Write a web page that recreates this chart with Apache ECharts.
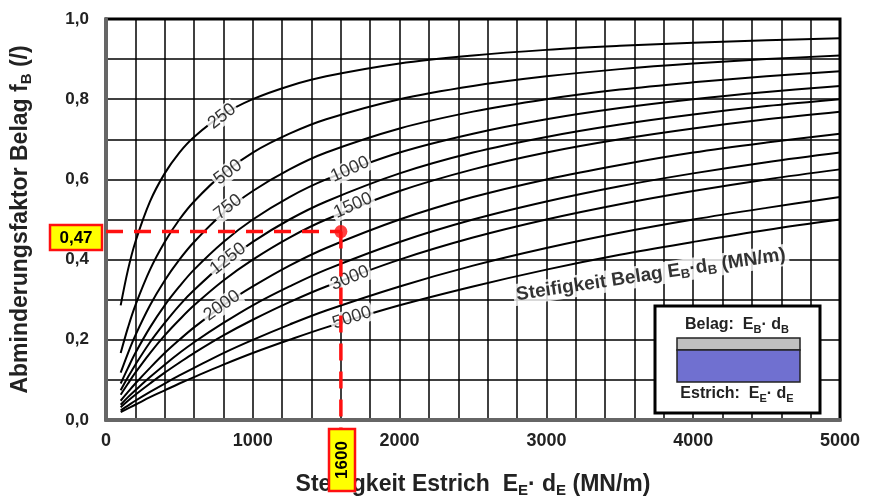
<!DOCTYPE html>
<html><head><meta charset="utf-8">
<script src="https://cdn.jsdelivr.net/npm/echarts@6/dist/echarts.min.js"></script>
<style>html,body{margin:0;padding:0;background:#fff}#c{width:869px;height:503px}</style>
</head><body><div id="c"></div>
<script>
// x positions (Steifigkeit Estrich, MN/m) at which the curves were read
const xValues = [100,150,200,300,400,500,600,800,1000,1250,1500,2000,2500,3000,3500,4000,4500,5000];
// curve families: Steifigkeit Belag (MN/m)
const curveNames = ['250','500','750','1000','1250','1500','2000','2500','3000','4000','5000'];
const f250  = [0.286,0.375,0.444,0.545,0.615,0.667,0.706,0.762,0.800,0.833,0.857,0.889,0.909,0.923,0.933,0.941,0.947,0.952];
const f500  = [0.167,0.231,0.286,0.375,0.444,0.500,0.545,0.615,0.667,0.714,0.750,0.800,0.833,0.857,0.875,0.889,0.900,0.909];
const f750  = [0.118,0.167,0.211,0.286,0.348,0.400,0.444,0.516,0.571,0.625,0.667,0.727,0.769,0.800,0.824,0.842,0.857,0.870];
const f1000 = [0.091,0.130,0.167,0.231,0.286,0.333,0.375,0.444,0.500,0.556,0.600,0.667,0.714,0.750,0.778,0.800,0.818,0.833];
const f1250 = [0.074,0.107,0.138,0.194,0.242,0.286,0.324,0.390,0.444,0.500,0.545,0.615,0.667,0.706,0.737,0.762,0.783,0.800];
const f1500 = [0.063,0.091,0.118,0.167,0.211,0.250,0.286,0.348,0.400,0.455,0.500,0.571,0.625,0.667,0.700,0.727,0.750,0.769];
const f2000 = [0.048,0.070,0.091,0.130,0.167,0.200,0.231,0.286,0.333,0.385,0.429,0.500,0.556,0.600,0.636,0.667,0.692,0.714];
const f2500 = [0.038,0.057,0.074,0.107,0.138,0.167,0.194,0.242,0.286,0.333,0.375,0.444,0.500,0.545,0.583,0.615,0.643,0.667];
const f3000 = [0.032,0.048,0.063,0.091,0.118,0.143,0.167,0.211,0.250,0.294,0.333,0.400,0.455,0.500,0.538,0.571,0.600,0.625];
const f4000 = [0.024,0.036,0.048,0.070,0.091,0.111,0.130,0.167,0.200,0.238,0.273,0.333,0.385,0.429,0.467,0.500,0.529,0.556];
const f5000 = [0.020,0.029,0.038,0.057,0.074,0.091,0.107,0.138,0.167,0.200,0.231,0.286,0.333,0.375,0.412,0.444,0.474,0.500];
const curveValues = [f250,f500,f750,f1000,f1250,f1500,f2000,f2500,f3000,f4000,f5000];
// curve label anchors: [text, x, y, rotation]
const curveLabels = [
  ['250',790,0.757,38],['500',831,0.618,37],['750',831,0.531,38],['1000',1662,0.625,24],
  ['1250',831,0.402,38],['1500',1683,0.535,24],['2000',790,0.285,35],['3000',1662,0.354,22],['5000',1675,0.255,18]
];
// example reading
const exampleX = 1600, exampleY = 0.47;
const exampleXLabel = '1600', exampleYLabel = '0,47';

const FONT = '"Liberation Sans", Arial, sans-serif';
const chart = echarts.init(document.getElementById('c'), null, {renderer:'canvas'});

const series = curveValues.map((vals,i)=>({
  type:'line', name:curveNames[i], data:xValues.map((x,j)=>[x,vals[j]]),
  smooth:0.35, showSymbol:false, symbol:'none', silent:true, z:3,
  lineStyle:{color:'#000', width:2}
}));

series.push({
  type:'scatter', symbolSize:0, z:5, silent:true,
  data:curveLabels.map(l=>({value:[l[1],l[2]], label:{rotate:l[3], formatter:l[0]}})),
  label:{show:true, position:'inside', color:'#000', fontFamily:FONT, fontSize:18,
    backgroundColor:'#fff', padding:[0,2,0,2]}
});
series.push({
  type:'scatter', symbolSize:0, z:5, silent:true,
  data:[{value:[3712,0.362]}],
  label:{show:true, position:'inside', rotate:8.5, fontFamily:FONT, backgroundColor:'#fff', padding:[0,3,0,3],
    formatter:'{b|Steifigkeit Belag E}{s|B}{b|·d}{s|B}{b| (MN/m)}',
    rich:{b:{fontSize:19, fontWeight:'bold', fontFamily:FONT, color:'#000', lineHeight:22},
          s:{fontSize:13, fontWeight:'bold', fontFamily:FONT, color:'#000', lineHeight:22, verticalAlign:'bottom', padding:[9,0,0,0]}}}
});
series.push({
  type:'line', z:6, silent:true, showSymbol:false, symbol:'none', clip:false,
  data:[[0,exampleY],[exampleX,exampleY]],
  lineStyle:{color:'#ff1010', width:3.5, type:[17,11]}
});
series.push({
  type:'line', z:6, silent:true, showSymbol:false, symbol:'none', clip:false,
  data:[[exampleX,exampleY],[exampleX,-0.02]],
  lineStyle:{color:'#ff1010', width:3.5, type:[17,11]}
});
series.push({
  type:'scatter', z:7, silent:true, symbolSize:13, data:[[exampleX,exampleY]],
  itemStyle:{color:'#ff1010'}
});

chart.setOption({
  animation:false,
  backgroundColor:'#fff',
  grid:{left:106, right:29, top:19, bottom:81, show:true, borderColor:'#000', borderWidth:3, backgroundColor:'transparent'},
  xAxis:{type:'value', min:0, max:5000, interval:200,
    axisLine:{show:true, onZero:false, lineStyle:{color:'#666', width:4}},
    axisTick:{show:false},
    splitLine:{show:true, lineStyle:{color:'#000', width:1.5}},
    axisLabel:{margin:12, fontFamily:FONT, fontSize:18, fontWeight:'bold', color:'#222',
      formatter:v=> (v%1000===0 ? String(v) : '')},
    name:'{b|Steifigkeit Estrich  E}{s|E}{b|· d}{s|E}{b| (MN/m)}', nameLocation:'middle', nameGap:52,
    nameTextStyle:{rich:{b:{fontSize:23, fontWeight:'bold', fontFamily:FONT, color:'#222', lineHeight:26},
      s:{fontSize:15, fontWeight:'bold', fontFamily:FONT, color:'#222', lineHeight:26, verticalAlign:'bottom', padding:[10,0,0,0]}}}
  },
  yAxis:{type:'value', min:0, max:1, interval:0.1,
    axisLine:{show:true, onZero:false, lineStyle:{color:'#666', width:4}},
    axisTick:{show:false},
    splitLine:{show:true, lineStyle:{color:'#000', width:1.5}},
    axisLabel:{margin:17, fontFamily:FONT, fontSize:17, fontWeight:'bold', color:'#222',
      formatter:v=> (Math.round(v*10)%2===0 ? v.toFixed(1).replace('.',',') : '')},
    name:'{b|Abminderungsfaktor Belag f}{s|B}{b| (/)}', nameLocation:'middle', nameGap:72,
    nameTextStyle:{rich:{b:{fontSize:23, fontWeight:'bold', fontFamily:FONT, color:'#222', lineHeight:26},
      s:{fontSize:15, fontWeight:'bold', fontFamily:FONT, color:'#222', lineHeight:26, verticalAlign:'bottom', padding:[10,0,0,0]}}}
  },
  series:series,
  graphic:[
    {type:'rect', z:100, shape:{x:50,y:225,width:52,height:25}, style:{fill:'#ffff00', stroke:'#ff1010', lineWidth:2.5}},
    {type:'text', z:101, x:76, y:238, style:{text:exampleYLabel, font:'bold 17px '+FONT, fill:'#000', align:'center', verticalAlign:'middle'}},
    {type:'rect', z:100, shape:{x:329,y:429,width:26,height:62}, style:{fill:'#ffff00', stroke:'#ff1010', lineWidth:2.5}},
    {type:'text', z:101, x:342, y:460, rotation:Math.PI/2, style:{text:exampleXLabel, font:'bold 17px '+FONT, fill:'#000', align:'center', verticalAlign:'middle'}},
    // inset box
    {type:'rect', z:100, shape:{x:655,y:306,width:165,height:107}, style:{fill:'#fff', stroke:'#000', lineWidth:3}},
    {type:'text', z:101, x:737, y:325, style:{
      text:'{b|Belag:  E}{s|B}{b|· d}{s|B}', align:'center', verticalAlign:'middle',
      rich:{b:{font:'bold 16px '+FONT, fill:'#222', lineHeight:20},
            s:{font:'bold 11px '+FONT, fill:'#222', lineHeight:20, verticalAlign:'bottom', padding:[8,0,0,0]}}}},
    {type:'rect', z:101, shape:{x:677,y:338,width:123,height:12}, style:{fill:'#c0c0c0', stroke:'#222', lineWidth:1.5}},
    {type:'rect', z:101, shape:{x:677,y:350,width:123,height:32}, style:{fill:'#7070d0', stroke:'#222', lineWidth:1.5}},
    {type:'text', z:101, x:737, y:394, style:{
      text:'{b|Estrich:  E}{s|E}{b|· d}{s|E}', align:'center', verticalAlign:'middle',
      rich:{b:{font:'bold 16px '+FONT, fill:'#222', lineHeight:20},
            s:{font:'bold 11px '+FONT, fill:'#222', lineHeight:20, verticalAlign:'bottom', padding:[8,0,0,0]}}}}
  ]
});
</script></body></html>
